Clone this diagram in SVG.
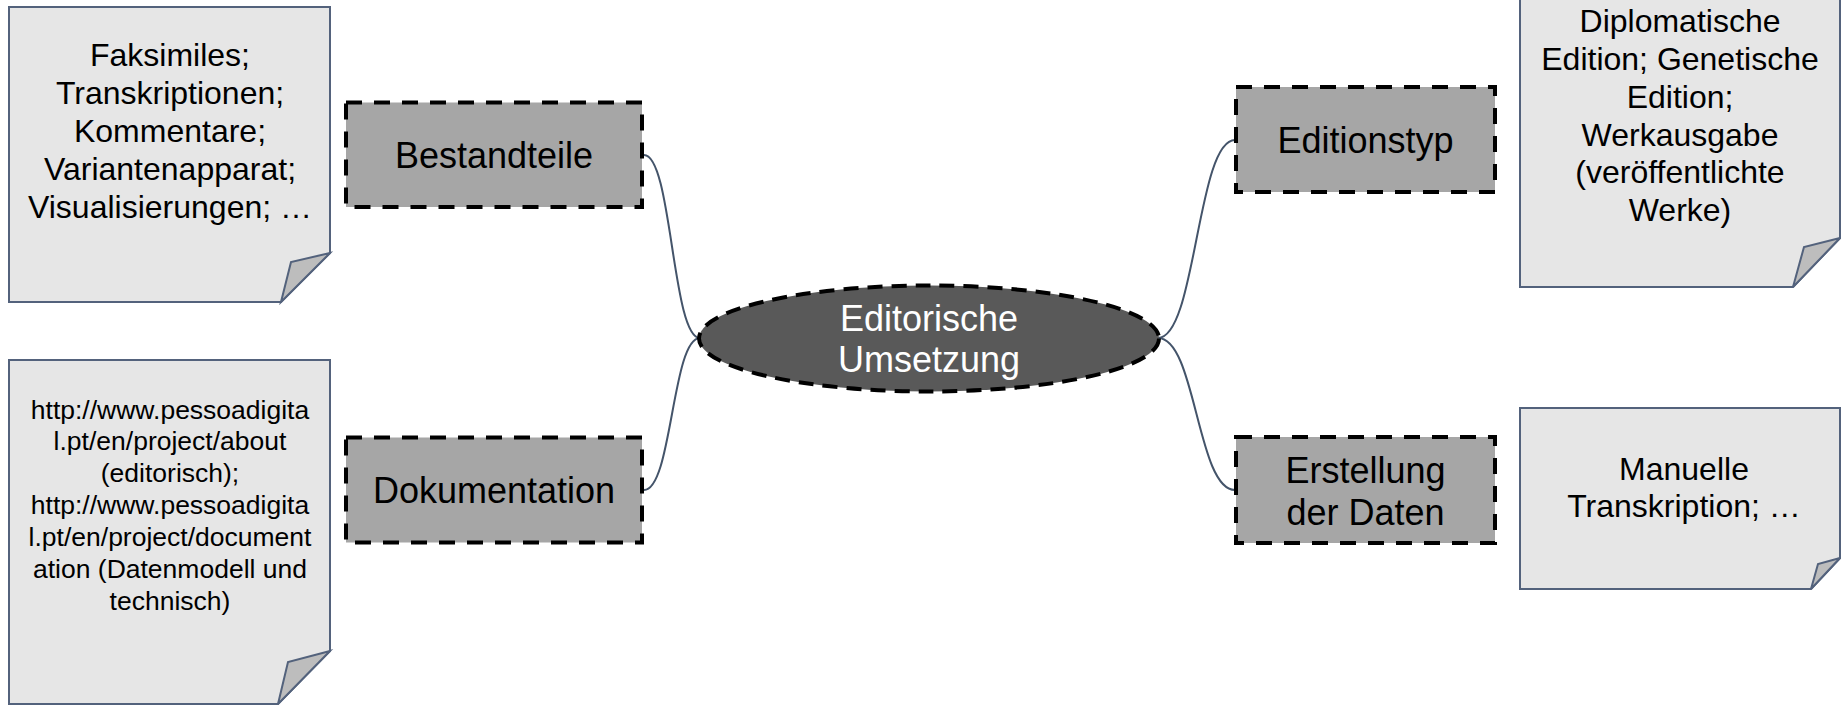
<svg xmlns="http://www.w3.org/2000/svg" width="1841" height="705" viewBox="0 0 1841 705">
<style>
text{font-family:"Liberation Sans",Arial,sans-serif;text-anchor:middle}
.note{fill:#e6e6e6;stroke:#53627c;stroke-width:2;stroke-linejoin:miter}
.fold{fill:#bdbdbd;stroke:#53627c;stroke-width:2}
.box{fill:#a6a6a6;stroke:#000;stroke-width:4;stroke-dasharray:16 12}
.nt{font-size:32px;fill:#000}
.ut{font-size:26.5px;fill:#000}
.bt{font-size:36px;fill:#000}
.et{font-size:36px;fill:#fff}
.con{fill:none;stroke:#44546a;stroke-width:2}
</style>
<rect width="1841" height="705" fill="#fff"/>
<g id="connectors">
<path class="con" d="M644,155 C672,155 672,338 700,338"/>
<path class="con" d="M644,490 C672,490 672,338 700,338"/>
<path class="con" d="M1158,338 C1196,338 1197,140 1235,140"/>
<path class="con" d="M1158,338 C1196,338 1197,490 1235,490"/>
</g>
<g id="note-bestandteile">
<path class="note" d="M9,7 H330 V253 L281,302 H9 Z"/>
<path class="fold" d="M330,253 L291,262 L281,302 Z"/>
<text class="nt" x="170" y="66">Faksimiles;</text>
<text class="nt" x="170" y="104">Transkriptionen;</text>
<text class="nt" x="170" y="142">Kommentare;</text>
<text class="nt" x="170" y="180">Variantenapparat;</text>
<text class="nt" x="170" y="218">Visualisierungen; …</text>
</g>
<g id="note-dokumentation">
<path class="note" d="M9,360 H330 V651 L278,704 H9 Z"/>
<path class="fold" d="M330,651 L288,662 L278,704 Z"/>
<text class="ut" x="170" y="418.5">http://www.pessoadigita</text>
<text class="ut" x="170" y="450.4">l.pt/en/project/about</text>
<text class="ut" x="170" y="482.3">(editorisch);</text>
<text class="ut" x="170" y="514.2">http://www.pessoadigita</text>
<text class="ut" x="170" y="546.1">l.pt/en/project/document</text>
<text class="ut" x="170" y="578">ation (Datenmodell und</text>
<text class="ut" x="170" y="609.9">technisch)</text>
</g>
<g id="bestandteile">
<rect class="box" x="346" y="102.5" width="296" height="104.5"/>
<text class="bt" x="494" y="168">Bestandteile</text>
</g>
<g id="dokumentation">
<rect class="box" x="346" y="437.5" width="296" height="105"/>
<text class="bt" x="494" y="503">Dokumentation</text>
</g>
<g id="center">
<ellipse cx="929" cy="338.5" rx="230" ry="53" fill="#595959" stroke="#000" stroke-width="4" stroke-dasharray="15 9"/>
<text class="et" x="929" y="331">Editorische</text>
<text class="et" x="929" y="372">Umsetzung</text>
</g>
<g id="editionstyp">
<rect class="box" x="1236" y="87" width="259" height="105"/>
<text class="bt" x="1365.5" y="152.5">Editionstyp</text>
</g>
<g id="erstellung">
<rect class="box" x="1236" y="437" width="259" height="106"/>
<text class="bt" x="1365.5" y="483">Erstellung</text>
<text class="bt" x="1365.5" y="525">der Daten</text>
</g>
<g id="note-editionstyp">
<path class="note" d="M1520,-30 H1840 V238 L1793,287 H1520 Z"/>
<path class="fold" d="M1840,238 L1804,247 L1793,287 Z"/>
<text class="nt" x="1680" y="32">Diplomatische</text>
<text class="nt" x="1680" y="70">Edition; Genetische</text>
<text class="nt" x="1680" y="107.5">Edition;</text>
<text class="nt" x="1680" y="145.5">Werkausgabe</text>
<text class="nt" x="1680" y="183">(veröffentlichte</text>
<text class="nt" x="1680" y="221">Werke)</text>
</g>
<g id="note-erstellung">
<path class="note" d="M1520,408 H1840 V558 L1811,589 H1520 Z"/>
<path class="fold" d="M1840,558 L1818,564 L1811,589 Z"/>
<text class="nt" x="1684" y="480">Manuelle</text>
<text class="nt" x="1684" y="517">Transkription; …</text>
</g>
</svg>
